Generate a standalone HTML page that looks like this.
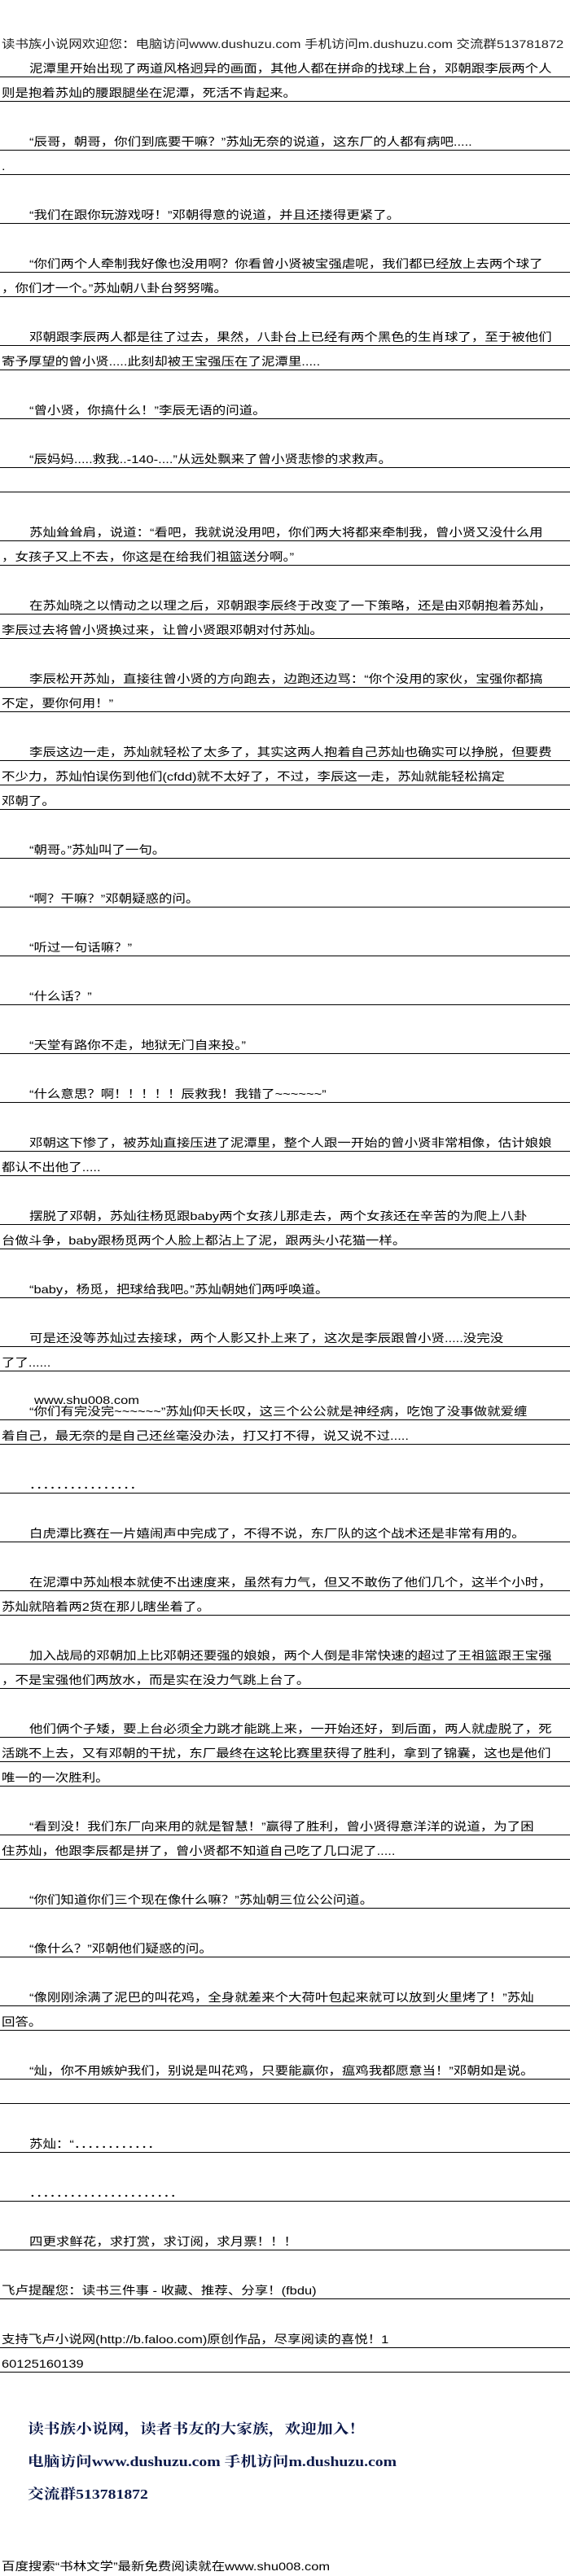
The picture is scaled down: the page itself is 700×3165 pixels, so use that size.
<!DOCTYPE html>
<html><head><meta charset="utf-8">
<style>
html,body{margin:0;padding:0;background:#fff;}
body{width:700px;height:3165px;position:relative;overflow:hidden;}
.r{position:absolute;left:0;width:700px;height:20px;border-bottom:1px solid #000;overflow:hidden;}
.t{display:inline-block;transform:scaleX(1.175);transform-origin:0 0;white-space:nowrap;font:14px/20px "Liberation Sans","Noto Sans CJK SC",sans-serif;color:#000;margin-left:2px;}
.i{margin-left:36px;}
.p{position:absolute;left:0;white-space:nowrap;}
.b{display:inline-block;transform:scaleX(1.16);transform-origin:0 0;font:17px/22px "Liberation Serif","Noto Serif CJK SC",serif;color:#0d1a4a;font-weight:bold;}
</style></head><body>
<div class="p" style="top:44px;"><span class="t" style="color:#222">读书族小说网欢迎您：电脑访问www.dushuzu.com 手机访问m.dushuzu.com 交流群513781872</span></div>

<div class="r" style="top:74px"><span class="t i">泥潭里开始出现了两道风格迥异的画面，其他人都在拼命的找球上台，邓朝跟李辰两个人</span></div>
<div class="r" style="top:104px"><span class="t">则是抱着苏灿的腰跟腿坐在泥潭，死活不肯起来。</span></div>
<div class="r" style="top:164px"><span class="t i">“辰哥，朝哥，你们到底要干嘛？”苏灿无奈的说道，这东厂的人都有病吧.....</span></div>
<div class="r" style="top:194px"><span class="t">.</span></div>
<div class="r" style="top:254px"><span class="t i">“我们在跟你玩游戏呀！”邓朝得意的说道，并且还搂得更紧了。</span></div>
<div class="r" style="top:314px"><span class="t i">“你们两个人牵制我好像也没用啊？你看曾小贤被宝强虐呢，我们都已经放上去两个球了</span></div>
<div class="r" style="top:344px"><span class="t">，你们才一个。”苏灿朝八卦台努努嘴。</span></div>
<div class="r" style="top:404px"><span class="t i">邓朝跟李辰两人都是往了过去，果然，八卦台上已经有两个黑色的生肖球了，至于被他们</span></div>
<div class="r" style="top:434px"><span class="t">寄予厚望的曾小贤.....此刻却被王宝强压在了泥潭里.....</span></div>
<div class="r" style="top:494px"><span class="t i">“曾小贤，你搞什么！”李辰无语的问道。</span></div>
<div class="r" style="top:554px"><span class="t i">“辰妈妈.....救我..-140-....”从远处飘来了曾小贤悲惨的求救声。</span></div>
<div class="r" style="top:584px"><span class="t"></span></div>
<div class="r" style="top:644px"><span class="t i">苏灿耸耸肩，说道：“看吧，我就说没用吧，你们两大将都来牵制我，曾小贤又没什么用</span></div>
<div class="r" style="top:674px"><span class="t">，女孩子又上不去，你这是在给我们祖篮送分啊。”</span></div>
<div class="r" style="top:734px"><span class="t i">在苏灿晓之以情动之以理之后，邓朝跟李辰终于改变了一下策略，还是由邓朝抱着苏灿，</span></div>
<div class="r" style="top:764px"><span class="t">李辰过去将曾小贤换过来，让曾小贤跟邓朝对付苏灿。</span></div>
<div class="r" style="top:824px"><span class="t i">李辰松开苏灿，直接往曾小贤的方向跑去，边跑还边骂：“你个没用的家伙，宝强你都搞</span></div>
<div class="r" style="top:854px"><span class="t">不定，要你何用！”</span></div>
<div class="r" style="top:914px"><span class="t i">李辰这边一走，苏灿就轻松了太多了，其实这两人抱着自己苏灿也确实可以挣脱，但要费</span></div>
<div class="r" style="top:944px"><span class="t">不少力，苏灿怕误伤到他们(cfdd)就不太好了，不过，李辰这一走，苏灿就能轻松搞定</span></div>
<div class="r" style="top:974px"><span class="t">邓朝了。</span></div>
<div class="r" style="top:1034px"><span class="t i">“朝哥。”苏灿叫了一句。</span></div>
<div class="r" style="top:1094px"><span class="t i">“啊？干嘛？”邓朝疑惑的问。</span></div>
<div class="r" style="top:1154px"><span class="t i">“听过一句话嘛？”</span></div>
<div class="r" style="top:1214px"><span class="t i">“什么话？”</span></div>
<div class="r" style="top:1274px"><span class="t i">“天堂有路你不走，地狱无门自来投。”</span></div>
<div class="r" style="top:1334px"><span class="t i">“什么意思？啊！！！！！辰救我！我错了~~~~~~”</span></div>
<div class="r" style="top:1394px"><span class="t i">邓朝这下惨了，被苏灿直接压进了泥潭里，整个人跟一开始的曾小贤非常相像，估计娘娘</span></div>
<div class="r" style="top:1424px"><span class="t">都认不出他了.....</span></div>
<div class="r" style="top:1484px"><span class="t i">摆脱了邓朝，苏灿往杨觅跟baby两个女孩儿那走去，两个女孩还在辛苦的为爬上八卦</span></div>
<div class="r" style="top:1514px"><span class="t">台做斗争，baby跟杨觅两个人脸上都沾上了泥，跟两头小花猫一样。</span></div>
<div class="r" style="top:1574px"><span class="t i">“baby，杨觅，把球给我吧。”苏灿朝她们两呼唤道。</span></div>
<div class="r" style="top:1634px"><span class="t i">可是还没等苏灿过去接球，两个人影又扑上来了，这次是李辰跟曾小贤.....没完没</span></div>
<div class="r" style="top:1664px"><span class="t">了了......</span></div>
<div class="p" style="top:1710px;left:42px;"><span class="t" style="margin-left:0">www.shu008.com</span></div>
<div class="r" style="top:1724px"><span class="t i">“你们有完没完~~~~~~”苏灿仰天长叹，这三个公公就是神经病，吃饱了没事做就爱缠</span></div>
<div class="r" style="top:1754px"><span class="t">着自己，最无奈的是自己还丝毫没办法，打又打不得，说又说不过.....</span></div>
<div class="r" style="top:1814px"><span class="t i">．．．．．．．．．．．．．．．．</span></div>
<div class="r" style="top:1874px"><span class="t i">白虎潭比赛在一片嬉闹声中完成了，不得不说，东厂队的这个战术还是非常有用的。</span></div>
<div class="r" style="top:1934px"><span class="t i">在泥潭中苏灿根本就使不出速度来，虽然有力气，但又不敢伤了他们几个，这半个小时，</span></div>
<div class="r" style="top:1964px"><span class="t">苏灿就陪着两2货在那儿瞎坐着了。</span></div>
<div class="r" style="top:2024px"><span class="t i">加入战局的邓朝加上比邓朝还要强的娘娘，两个人倒是非常快速的超过了王祖篮跟王宝强</span></div>
<div class="r" style="top:2054px"><span class="t">，不是宝强他们两放水，而是实在没力气跳上台了。</span></div>
<div class="r" style="top:2114px"><span class="t i">他们俩个子矮，要上台必须全力跳才能跳上来，一开始还好，到后面，两人就虚脱了，死</span></div>
<div class="r" style="top:2144px"><span class="t">活跳不上去，又有邓朝的干扰，东厂最终在这轮比赛里获得了胜利，拿到了锦囊，这也是他们</span></div>
<div class="r" style="top:2174px"><span class="t">唯一的一次胜利。</span></div>
<div class="r" style="top:2234px"><span class="t i">“看到没！我们东厂向来用的就是智慧！”赢得了胜利，曾小贤得意洋洋的说道，为了困</span></div>
<div class="r" style="top:2264px"><span class="t">住苏灿，他跟李辰都是拼了，曾小贤都不知道自己吃了几口泥了.....</span></div>
<div class="r" style="top:2324px"><span class="t i">“你们知道你们三个现在像什么嘛？”苏灿朝三位公公问道。</span></div>
<div class="r" style="top:2384px"><span class="t i">“像什么？”邓朝他们疑惑的问。</span></div>
<div class="r" style="top:2444px"><span class="t i">“像刚刚涂满了泥巴的叫花鸡，全身就差来个大荷叶包起来就可以放到火里烤了！”苏灿</span></div>
<div class="r" style="top:2474px"><span class="t">回答。</span></div>
<div class="r" style="top:2534px"><span class="t i">“灿，你不用嫉妒我们，别说是叫花鸡，只要能赢你，瘟鸡我都愿意当！”邓朝如是说。</span></div>
<div class="r" style="top:2564px"><span class="t"></span></div>
<div class="r" style="top:2624px"><span class="t i">苏灿：“．．．．．．．．．．．．</span></div>
<div class="r" style="top:2684px"><span class="t i">．．．．．．．．．．．．．．．．．．．．．．</span></div>
<div class="r" style="top:2744px"><span class="t i">四更求鲜花，求打赏，求订阅，求月票！！！</span></div>
<div class="r" style="top:2804px"><span class="t">飞卢提醒您：读书三件事 - 收藏、推荐、分享！(fbdu)</span></div>
<div class="r" style="top:2864px"><span class="t">支持飞卢小说网(http://b.faloo.com)原创作品，尽享阅读的喜悦！1</span></div>
<div class="r" style="top:2894px"><span class="t">60125160139</span></div>

<div class="p" style="top:2974px;left:34px;"><span class="b">读书族小说网，读者书友的大家族，欢迎加入！</span></div>
<div class="p" style="top:3014px;left:34px;"><span class="b">电脑访问www.dushuzu.com 手机访问m.dushuzu.com</span></div>
<div class="p" style="top:3054px;left:34px;"><span class="b">交流群513781872</span></div>

<div class="p" style="top:3143px;left:0;"><span class="t">百度搜索“书林文学”最新免费阅读就在www.shu008.com</span></div>
</body></html>
